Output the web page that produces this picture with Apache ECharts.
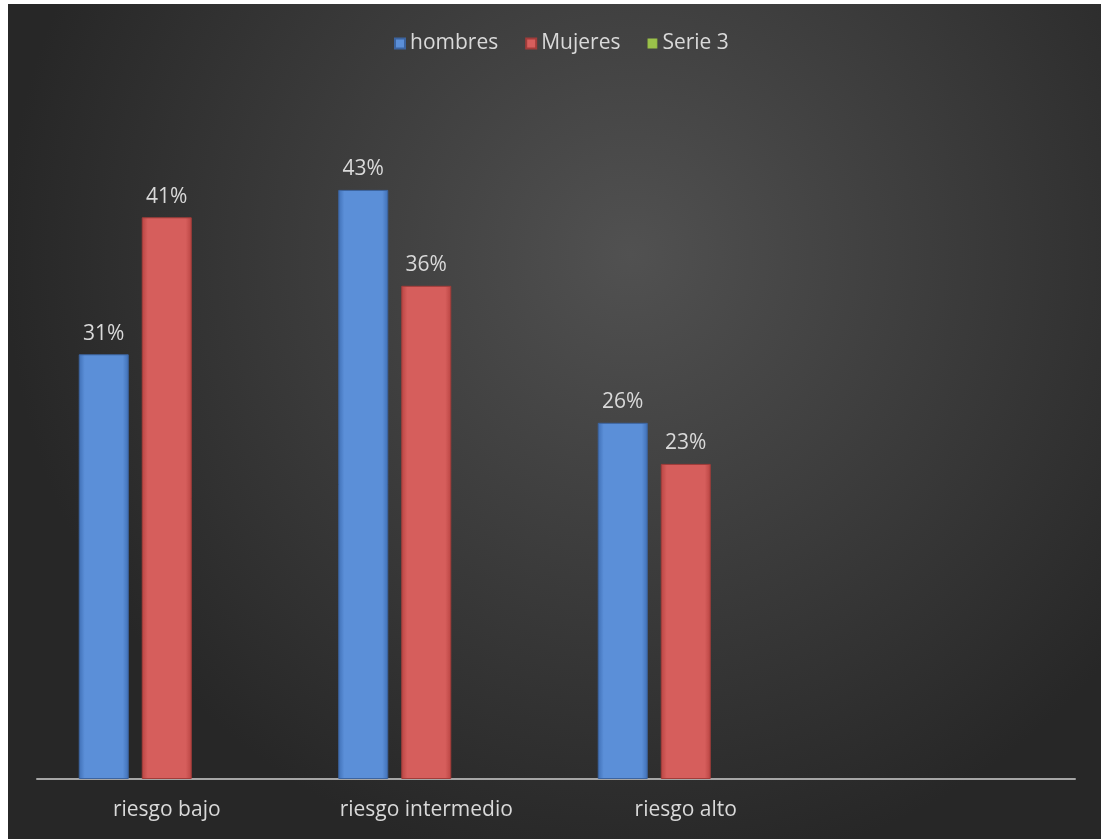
<!DOCTYPE html>
<html><head><meta charset="utf-8">
<script src="https://cdn.jsdelivr.net/npm/echarts@6/dist/echarts.min.js"></script>
<style>html,body{margin:0;padding:0;background:#fff}#c{width:1101px;height:839px}</style>
</head><body><div id="c"></div>
<script>
const categories = ['riesgo bajo', 'riesgo intermedio', 'riesgo alto', ''];
const seriesNames = ['hombres', 'Mujeres', 'Serie 3'];
const hombres = [0.31, 0.43, 0.26, '-'];
const mujeres = [0.41, 0.36, 0.23, '-'];
const serie3 = ['-', '-', '-', '-'];

function barGrad(dark, light) {
  return new echarts.graphic.LinearGradient(0, 0, 1, 0, [
    {offset: 0, color: dark}, {offset: 0.12, color: light}, {offset: 0.5, color: light}, {offset: 0.88, color: light}, {offset: 1, color: dark}
  ]);
}
const font = '"Open Sans", "Liberation Sans", sans-serif';
const lbl = {show: true, position: 'top', distance: 10, color: '#d9d9d9', fontSize: 21, fontFamily: font,
  formatter: p => Math.round(p.value * 100) + '%'};

const chart = echarts.init(document.getElementById('c'));
chart.setOption({
  animation: false,
  graphic: [{
    type: 'rect', z: -10, silent: true,
    shape: {x: 8, y: 4, width: 1093, height: 835},
    style: {fill: new echarts.graphic.RadialGradient(0.57, 0.3, 0.75, [
      {offset: 0, color: '#515151'}, {offset: 1, color: '#272727'}])}
  }],
  legend: {
    top: 28, left: 389, itemWidth: 10, itemHeight: 10, itemGap: 27,
    icon: 'rect',
    textStyle: {color: '#d9d9d9', fontSize: 21, fontFamily: font},
    data: seriesNames
  },
  grid: {left: 37, right: 26, top: 94, bottom: 60, containLabel: false},
  xAxis: {
    type: 'category', data: categories,
    axisLine: {lineStyle: {color: '#a6a6a6', width: 2}},
    axisTick: {show: false},
    axisLabel: {color: '#d9d9d9', fontSize: 21, fontFamily: font, margin: 21}
  },
  yAxis: {type: 'value', min: 0, max: 0.5, show: false, splitLine: {show: false}},
  series: [
    {name: 'hombres', type: 'bar', data: hombres, barWidth: 50, barGap: '26%',
      itemStyle: {color: barGrad('#3f6fb5', '#5b8fd8'), borderColor: '#3c64a0', borderWidth: 1}, label: lbl},
    {name: 'Mujeres', type: 'bar', data: mujeres, barWidth: 50, barGap: '26%',
      itemStyle: {color: barGrad('#b84442', '#d65e5c'), borderColor: '#a23c3a', borderWidth: 1}, label: lbl},
    {name: 'Serie 3', type: 'bar', data: serie3, barWidth: 50, barGap: '26%',
      itemStyle: {color: barGrad('#86a83c', '#9bc24a')}, label: lbl}
  ]
});
</script></body></html>
